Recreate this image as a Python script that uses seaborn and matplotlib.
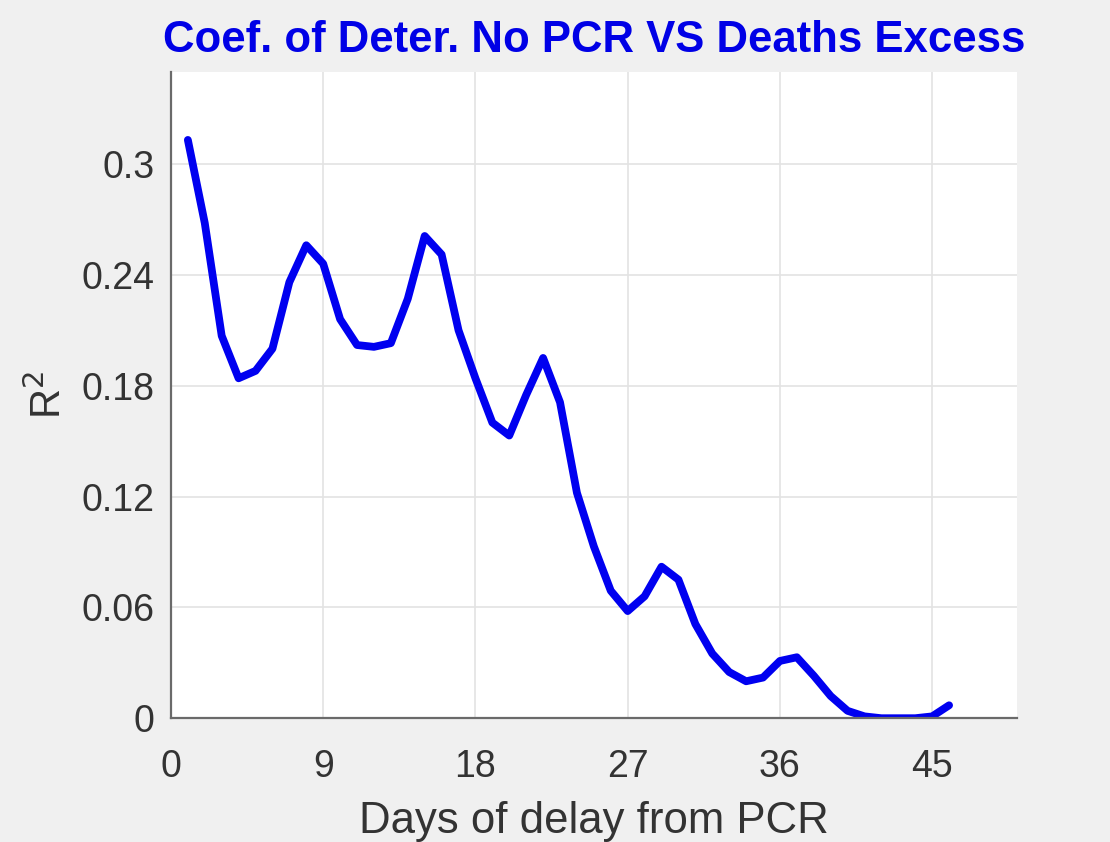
import matplotlib
matplotlib.use("Agg")
import matplotlib.pyplot as plt
import seaborn as sns
import pandas as pd
from matplotlib.ticker import FuncFormatter

days = list(range(1, 47))
r2 = [0.313, 0.268, 0.207, 0.184, 0.188, 0.200, 0.236, 0.256, 0.246, 0.216,
      0.202, 0.201, 0.203, 0.227, 0.261, 0.251, 0.210, 0.184, 0.160, 0.153,
      0.175, 0.195, 0.171, 0.122, 0.093, 0.069, 0.058, 0.066, 0.082, 0.075,
      0.051, 0.035, 0.025, 0.020, 0.022, 0.031, 0.033, 0.023, 0.012, 0.004,
      0.001, 0.000, 0.000, 0.000, 0.001, 0.007]
x_ticks = [0, 9, 18, 27, 36, 45]
y_ticks = [0, 0.06, 0.12, 0.18, 0.24, 0.3]

df = pd.DataFrame({"days": days, "r2": r2})

sns.set_theme(style="whitegrid")
plt.rcParams['font.family'] = ['Liberation Sans', 'DejaVu Sans']

fig = plt.figure(figsize=(11.1, 8.42), dpi=100, facecolor="#F0F0F0")
ax = fig.add_axes([0.154, 0.147, 0.762, 0.768])
ax.set_facecolor("white")

sns.lineplot(data=df, x="days", y="r2", ax=ax, color="#0000F0", linewidth=5.6,
             solid_joinstyle="round", solid_capstyle="round")

ax.set_xlim(0, 50)
ax.set_ylim(0, 0.35)
ax.set_xticks(x_ticks)
ax.set_yticks(y_ticks)
ax.yaxis.set_major_formatter(FuncFormatter(lambda v, p: f"{v:g}"))

ax.grid(True, color="#E3E3E3", linewidth=1.2)
for s in ["top", "right"]:
    ax.spines[s].set_visible(False)
for s in ["left", "bottom"]:
    ax.spines[s].set_color("#6a6a6a")
    ax.spines[s].set_linewidth(1.6)

ax.tick_params(axis="both", direction="in", length=6, width=1.2, color="#6a6a6a",
               labelsize=27, labelcolor="#333333")
ax.tick_params(axis="x", pad=22)
ax.tick_params(axis="y", pad=12)

ax.set_xlabel("Days of delay from PCR", fontsize=31.5, color="#333333", labelpad=12)
ax.set_ylabel("R$^2$", fontsize=30, color="#333333", labelpad=8)
ax.set_title("Coef. of Deter. No PCR VS Deaths Excess", fontsize=31.5, fontweight="bold",
             color="#0000E6", pad=14)

fig.savefig("out.png", dpi=100, facecolor=fig.get_facecolor())
